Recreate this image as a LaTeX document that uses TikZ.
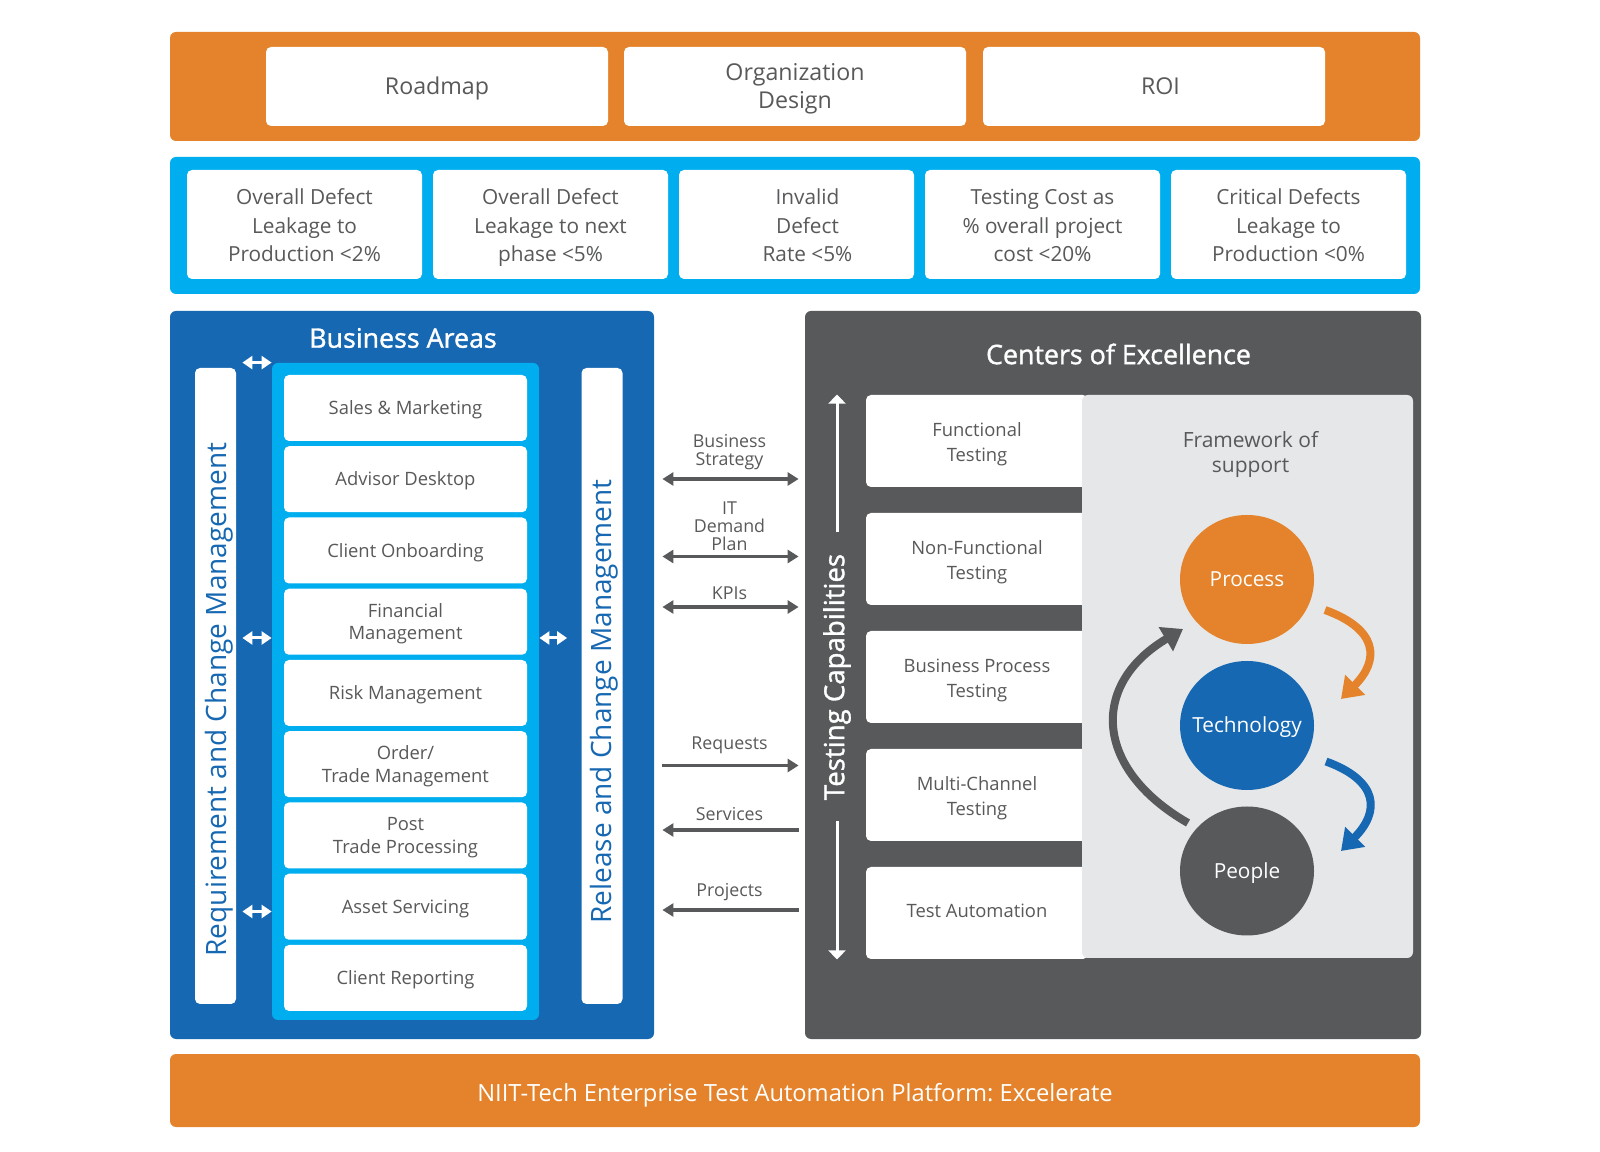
\documentclass[tikz,border=0pt]{standalone}
\usepackage{fontspec}
\setmainfont{Open Sans}
\newfontfamily\semibold[FakeBold=1.3]{Open Sans}
\usetikzlibrary{arrows.meta,shapes.geometric}

\definecolor{niitorange}{HTML}{E4832B}
\definecolor{niitcyan}{HTML}{00AEEF}
\definecolor{niitblue}{HTML}{1768B2}
\definecolor{coegray}{HTML}{58595B}
\definecolor{fwgray}{HTML}{E6E7E8}
\definecolor{txtgray}{HTML}{58595B}

\tikzset{
  slab/.style={fill=#1, rounded corners=3pt, inner sep=0pt},
  whitebox/.style={fill=white, rounded corners=2.5pt, align=center, text=txtgray, inner sep=0pt, text depth=0pt},
  topbox/.style={whitebox, text height=8.3pt, minimum width=171pt, minimum height=39.5pt, font=\fontsize{11.6}{13.8}\selectfont},
  kpibox/.style={whitebox, text height=37.3pt, minimum width=117.5pt, minimum height=54.5pt, font=\fontsize{10.4}{14.2}\selectfont},
  areabox/.style={whitebox, text height=6.6pt, minimum width=121.5pt, minimum height=33pt, font=\fontsize{9.2}{11.2}\selectfont},
  testbox/.style={whitebox, text height=20.7pt, minimum width=111pt, minimum height=46pt, font=\fontsize{9.2}{12.6}\selectfont},
  pillar/.style={fill=white, rounded corners=2.5pt, minimum width=20.5pt, minimum height=318pt, inner sep=0pt},
  pillartxt/.style={rotate=90, text=niitblue, inner sep=0pt, font=\fontsize{14}{16}\selectfont},
  paneltitle/.style={text=white, inner sep=0pt, font=\semibold\fontsize{13.4}{16}\selectfont},
  flowlbl/.style={anchor=south, yshift=#1, inner sep=0pt, text=txtgray, align=center, font=\fontsize{8.9}{9.1}\selectfont},
  flowlbl/.default=3.6pt,
  flow/.style={draw=coegray, line width=1.6pt, shorten <=4pt, shorten >=3pt, >={Triangle[length=5.5pt,width=6.5pt]}},
  wlink/.style={draw=white, line width=1.5pt, shorten <=3pt, {Triangle[length=5pt,width=6.5pt]}-{Triangle[length=5pt,width=6.5pt]}},
  wrail/.style={draw=white, line width=1.5pt, shorten <=10.5pt, -{Triangle[length=4.5pt,width=8.5pt]}},
  cyc/.style={ellipse, minimum width=67pt, minimum height=64.5pt, inner sep=-5pt, text height=7.4pt, text depth=0pt, text=white, font=\fontsize{10.4}{12}\selectfont},
  cycarrow/.style={line width=4pt, -{Triangle[length=10pt,width=13.5pt]}}
}

\begin{document}
\frenchspacing
\begin{tikzpicture}[x=0.5pt, y=0.5pt, font=\fontsize{10}{12}\selectfont]
    \useasboundingbox (0,0) rectangle (1600,1151);
    % Strategy band
    \node[slab=niitorange, minimum width=625pt, minimum height=54.5pt] (stratband) at (795,1064.5) {};
    \node[topbox] (roadmap) at (437,1064.5) {Roadmap};
    \node[topbox, text height=22.1pt] (orgdesign) at (795,1064.5) {Organization\\Design};
    \node[topbox] (roi) at (1154,1064.5) {\hspace*{6.5pt}ROI};
    % KPI band
    \node[slab=niitcyan, minimum width=625pt, minimum height=68.5pt] (kpiband) at (795,925.5) {};
    \node[kpibox] (kpia) at (304.5,926.5) {Overall Defect\\Leakage to\\Production <2\%};
    \node[kpibox] (kpib) at (550.5,926.5) {Overall Defect\\Leakage to next\\phase <5\%};
    \node[kpibox] (kpic) at (796.5,926.5) {\hspace*{11pt}Invalid\\\hspace*{11pt}Defect\\\hspace*{11pt}Rate <5\%};
    \node[kpibox] (kpid) at (1042.5,926.5) {Testing Cost as\\\% overall project\\cost <20\%};
    \node[kpibox] (kpie) at (1288.5,926.5) {Critical Defects\\Leakage to\\Production <0\%};
    % Business Areas
    \node[slab=niitblue, minimum width=242pt, minimum height=364pt] (bizpanel) at (412,476) {};
    \node[paneltitle] (biztitle) at (403,813) {Business Areas};
    \node[pillar] (reqbar) at (215.5,465) {};
    \node[pillartxt] (reqtxt) at (219,451.5) {Requirement and Change Management};
    \node[pillar] (relbar) at (602,465) {};
    \node[pillartxt] (reltxt) at (604,449.5) {Release and Change Management};
    \node[slab=niitcyan, minimum width=133.5pt, minimum height=328.5pt] (areacol) at (405.5,459.5) {};
    \node[areabox] (sales) at (405.5,743) {Sales \& Marketing};
    \node[areabox] (advisor) at (405.5,671.75) {Advisor Desktop};
    \node[areabox] (onboard) at (405.5,600.5) {Client Onboarding};
    \node[areabox, text height=17.8pt] (finmgmt) at (405.5,529.25) {Financial\\Management};
    \node[areabox] (riskmgmt) at (405.5,458) {Risk Management};
    \node[areabox, text height=17.8pt] (ordermgmt) at (405.5,386.75) {Order/\\Trade Management};
    \node[areabox, text height=17.8pt] (posttrade) at (405.5,315.5) {Post\\Trade Processing};
    \node[areabox] (assetserv) at (405.5,244.25) {Asset Servicing};
    \node[areabox] (clientrep) at (405.5,173) {Client Reporting};
    \draw[wlink] (reqbar.east |- areacol.north) -- (areacol.north west);
    \draw[wlink] (reqbar.east |- 0,513) -- (areacol.west |- 0,513);
    \draw[wlink] (reqbar.east |- 0,239.5) -- (areacol.west |- 0,239.5);
    \draw[wlink, shorten <=7pt] (relbar.west |- 0,513) -- (areacol.east |- 0,513);
    % Centers of Excellence
    \node[slab=coegray, minimum width=308pt, minimum height=364pt] (coepanel) at (1113,476) {};
    \node[paneltitle] (coetitle) at (1118.5,797) {Centers of Excellence};
    \node[testbox] (functest) at (977,710) {Functional\\Testing};
    \node[testbox] (nftest) at (977,592) {Non-Functional\\Testing};
    \node[testbox] (bptest) at (977,474) {Business Process\\Testing};
    \node[testbox] (mctest) at (977,356) {Multi-Channel\\Testing};
    \node[testbox, text height=4.6pt] (autotest) at (977,238) {Test Automation};
    \node[paneltitle, rotate=90, font=\semibold\fontsize{13.8}{16}\selectfont] (tcap) at (837,474) {Testing Capabilities};
    \draw[wrail] (tcap.east) -- (tcap.east |- functest.north);
    \draw[wrail] (tcap.west) -- (tcap.west |- autotest.south);
    % Framework of support
    \node[slab=fwgray, minimum width=165.5pt, minimum height=281.5pt] (fwpanel) at (1247.5,474.5) {};
    \node[text=txtgray, align=center, inner sep=0pt, font=\fontsize{10.5}{12.5}\selectfont] (fwtitle) at (1250.5,696.5) {Framework of\\support};
    \node[cyc, fill=niitorange] (proc) at (1247,571.5) {Process};
    \node[cyc, fill=niitblue] (tech) at (1247,425.5) {Technology};
    \node[cyc, fill=coegray] (people) at (1247,280) {People};
    \draw[cycarrow, niitorange] ([shift={(78,-30.5)}]proc.center) .. controls +(52.5,-19) and +(39.5,39.5) .. ([shift={(94,26.5)}]tech.center);
    \draw[cycarrow, niitblue] ([shift={(79,-36)}]tech.center) .. controls +(52.5,-19) and +(39.5,39.5) .. ([shift={(94,20)}]people.center);
    \draw[cycarrow, coegray] ([shift={(-59,48)}]people.center) .. controls +(-94,54) and +(-93.5,-55.5) .. ([shift={(-64,-49.5)}]proc.center);
    % Flows between the panels
    \draw[flow, <->] (bizpanel.east |- 0,672) -- (coepanel.west |- 0,672) node[flowlbl, midway] {Business\\Strategy};
    \draw[flow, <->] (bizpanel.east |- 0,594.5) -- (coepanel.west |- 0,594.5) node[flowlbl=2.1pt, midway] {IT\\Demand\\Plan};
    \draw[flow, <->] (bizpanel.east |- 0,544) -- (coepanel.west |- 0,544) node[flowlbl=3.1pt, midway] {KPIs};
    \draw[flow, ->] (bizpanel.east |- 0,385.5) -- (coepanel.west |- 0,385.5) node[flowlbl=5pt, midway] {Requests};
    \draw[flow, <-] (bizpanel.east |- 0,321) -- (coepanel.west |- 0,321) node[flowlbl=4pt, midway] {Services};
    \draw[flow, <-] (bizpanel.east |- 0,241) -- (coepanel.west |- 0,241) node[flowlbl=4pt, midway] {Projects};
    % Platform
    \node[slab=niitorange, text height=11pt, text depth=0pt, minimum width=625pt, minimum height=36.5pt, text=white, font=\fontsize{11.85}{14}\selectfont] (platform) at (795,60.5) {NIIT-Tech Enterprise Test Automation Platform: Excelerate};
\end{tikzpicture}
\end{document}
